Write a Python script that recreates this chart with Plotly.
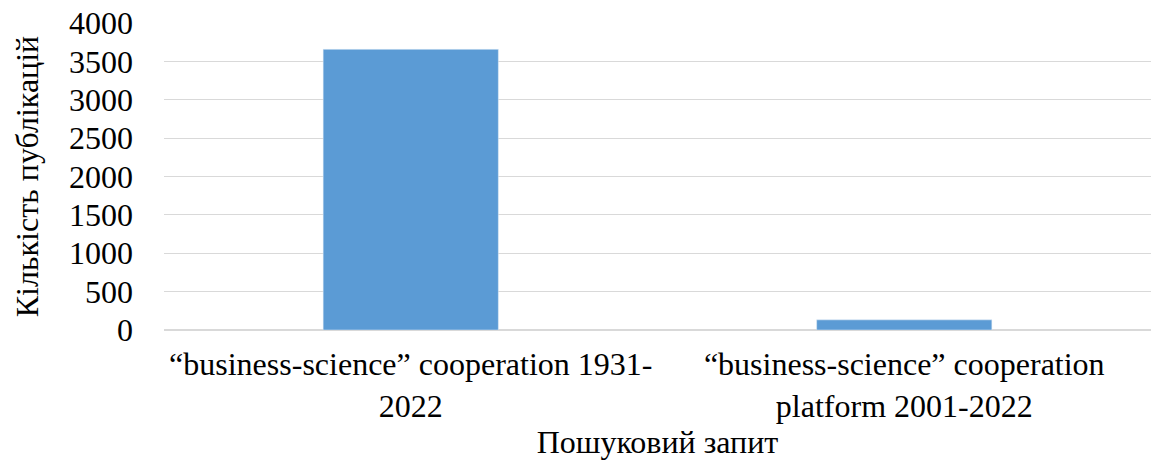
import plotly.graph_objects as go

categories = ["“business-science” cooperation 1931-<br>2022",
              "“business-science” cooperation<br>platform 2001-2022"]
values = [3657, 132]
y_ticks = [0, 500, 1000, 1500, 2000, 2500, 3000, 3500, 4000]

font = "Liberation Serif, Times New Roman, serif"

fig = go.Figure(go.Bar(x=categories, y=values, marker_color="#5b9bd5", width=0.355))
fig.update_layout(
    width=1151, height=461,
    margin=dict(l=164, r=0, t=23, b=131, pad=0),
    paper_bgcolor="white", plot_bgcolor="white",
    font=dict(family=font, size=32, color="black"),
    showlegend=False,
)
fig.update_yaxes(range=[0, 4000], tickvals=y_ticks, showgrid=True, gridcolor="#d9d9d9",
                 gridwidth=1, zeroline=True, zerolinecolor="#d9d9d9", ticklabelstandoff=30,
                 automargin=False, ticklabeloverflow="allow",
                 title=dict(text="Кількість публікацій", standoff=20, font=dict(size=32)),
                 tickfont=dict(size=32))
fig.update_xaxes(showline=False, tickfont=dict(size=32), automargin=False,
                 ticklabelstandoff=12, ticklabeloverflow="allow",
                 title=dict(text="Пошуковий запит", standoff=0, font=dict(size=32)))
fig.write_html("out.html", config={"displayModeBar": False},
               post_script="document.body.style.margin='0';")
